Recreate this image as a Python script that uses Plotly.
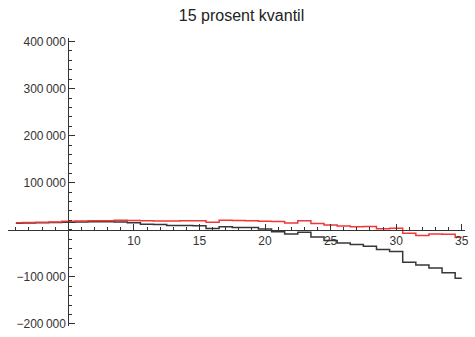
import plotly.graph_objects as go

# Years along the horizontal axis
years = list(range(1, 36))

# Red series (upper curve)
red_values = [15000, 15500, 16000, 16500, 18000, 18500, 19000, 19000, 20500, 20000,
              19000, 18500, 18500, 19500, 19000, 16000, 20500, 20000, 19500, 18000,
              17500, 14500, 19000, 13500, 10000, 8000, 6500, 7000, 2500, 3500,
              -7500, -12000, -9000, -9500, -16000]

# Black series (lower curve)
black_values = [14000, 14500, 15000, 15500, 16000, 16500, 17000, 17000, 16500, 15000,
                12000, 11500, 9000, 9000, 8500, 3000, 6500, 5000, 5000, 1500,
                -4000, -9000, -5000, -15500, -22500, -28000, -31000, -35000, -42000, -46000,
                -69000, -75000, -81000, -91000, -103000]

x_tick_vals = [10, 15, 20, 25, 30, 35]
y_tick_vals = [-200000, -100000, 100000, 200000, 300000, 400000]
y_tick_text = ["\u2212200\u2009000", "\u2212100\u2009000", "100\u2009000",
               "200\u2009000", "300\u2009000", "400\u2009000"]

x_range = [0.4, 35.25]
y_range = [-204400, 407600]

fig = go.Figure()
fig.add_trace(go.Scatter(x=years, y=black_values, mode="lines", line_shape="hvh",
                         line=dict(color="rgb(55,55,55)", width=1.5), hoverinfo="skip"))
fig.add_trace(go.Scatter(x=years, y=red_values, mode="lines", line_shape="hvh",
                         line=dict(color="rgb(242,55,55)", width=1.5), hoverinfo="skip"))

# Axes cross at (5, 0)
x_pos = (0 - y_range[0]) / (y_range[1] - y_range[0])
y_pos = (5 - x_range[0]) / (x_range[1] - x_range[0])

tick_font = dict(family="Liberation Sans, Arial, sans-serif", size=12, color="#333")

fig.update_layout(
    width=475, height=337,
    margin=dict(l=8, r=6, t=38, b=7),
    plot_bgcolor="white", paper_bgcolor="white",
    showlegend=False,
    title=dict(text="15 prosent kvantil", x=241.5 / 475, xanchor="center",
               y=1 - 15 / 337, yanchor="middle",
               font=dict(family="Liberation Sans, Arial, sans-serif", size=16, color="#222")),
    xaxis=dict(range=x_range, anchor="free", position=x_pos,
               showgrid=False, zeroline=False, showline=True, linecolor="#333", linewidth=1,
               tickmode="array", tickvals=x_tick_vals, ticks="inside", ticklen=6,
               tickcolor="#333", tickfont=tick_font,
               minor=dict(ticks="inside", dtick=1, tick0=0, ticklen=3, tickcolor="#333",
                          showgrid=False)),
    yaxis=dict(range=y_range, anchor="free", position=y_pos,
               showgrid=False, zeroline=False, showline=True, linecolor="#333", linewidth=1,
               tickmode="array", tickvals=y_tick_vals, ticktext=y_tick_text,
               ticks="inside", ticklen=6, tickcolor="#333", tickfont=tick_font,
               minor=dict(ticks="inside", dtick=20000, tick0=0, ticklen=3, tickcolor="#333",
                          showgrid=False)),
)

fig.write_html("out.html")
